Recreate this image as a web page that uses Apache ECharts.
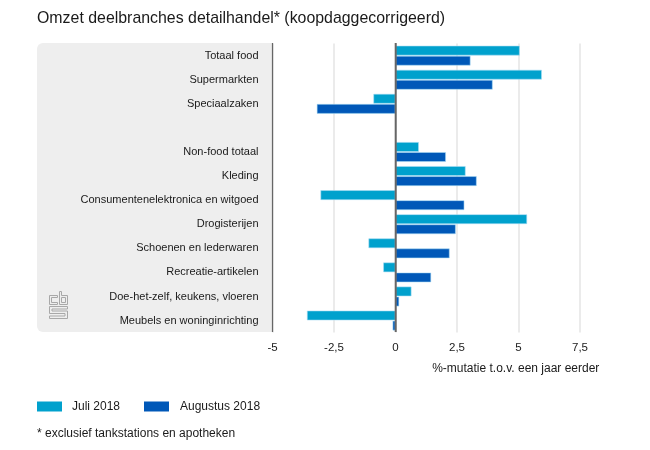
<!DOCTYPE html>
<html><head><meta charset="utf-8">
<style>html,body{margin:0;padding:0;background:#fff}#c{width:650px;height:450px}</style>
<script src="https://cdn.jsdelivr.net/npm/echarts@6/dist/echarts.min.js"></script>
</head><body><div id="c"></div>
<script>
var categories = ['Totaal food','Supermarkten','Speciaalzaken','','Non-food totaal','Kleding','Consumentenelektronica en witgoed','Drogisterijen','Schoenen en lederwaren','Recreatie-artikelen','Doe-het-zelf, keukens, vloeren','Meubels en woninginrichting'];
var juli = [5.05,5.95,-0.9,null,0.95,2.85,-3.05,5.35,-1.1,-0.5,0.65,-3.6];
var augustus = [3.05,3.95,-3.2,null,2.05,3.3,2.8,2.45,2.2,1.45,0.15,-0.12];
var font = '"Liberation Sans", Arial, sans-serif';
var txt = '#1a1a1a';
var logo = '#a8a8a8';
var chart = echarts.init(document.getElementById('c'), null, {renderer:'canvas'});
function bar(name, data, color){
  return {name:name,type:'bar',data:data,barWidth:9.8,barGap:'3%',
    itemStyle:{color:color,borderColor:'rgba(170,220,245,0.8)',borderWidth:0.7},
    animation:false,silent:true,z:3};
}
function tick(v){ return String(v).replace('.',','); }
function logoShape(pts){
  return {type:'polygon',silent:true,shape:{points:pts},style:{stroke:logo,fill:null,lineWidth:1}};
}
chart.setOption({
  animation:false,
  backgroundColor:'#fff',
  title:{text:'Omzet deelbranches detailhandel* (koopdaggecorrigeerd)',left:32,top:5.5,
    textStyle:{fontFamily:font,fontSize:15.9,fontWeight:'normal',color:txt}},
  grid:{left:272.5,top:43.6,width:307.5,height:289,containLabel:false},
  xAxis:{type:'value',min:-5,max:7.5,interval:2.5,
    axisLine:{show:false},axisTick:{show:false},
    axisLabel:{fontFamily:font,fontSize:11.5,color:txt,margin:9,formatter:tick},
    splitLine:{lineStyle:{color:'#e4e4e4',width:1.5}},
    name:'%-mutatie t.o.v. een jaar eerder',nameLocation:'middle',nameGap:30,
    nameTextStyle:{fontFamily:font,fontSize:12,color:txt,padding:[0,0,0,179]}},
  yAxis:{type:'category',data:categories,inverse:true,position:'left',
    axisLine:{show:false},axisTick:{show:false},
    axisLabel:{fontFamily:font,fontSize:11,color:txt,margin:14,interval:0,padding:[3,0,0,0]}},
  legend:{show:false},
  graphic:[
    {type:'rect',z:-10,silent:true,shape:{x:37,y:43,width:235,height:289,r:[6,0,0,6]},style:{fill:'#eeeeee'}},
    {type:'line',z:10,silent:true,shape:{x1:272.5,y1:43,x2:272.5,y2:332},style:{stroke:'#666',lineWidth:1.2}},
    {type:'line',z:10,silent:true,shape:{x1:395.7,y1:43,x2:395.7,y2:332},style:{stroke:'#666',lineWidth:2}},
    {type:'rect',silent:true,shape:{x:37,y:401.5,width:25,height:10},style:{fill:'#00a1cd'}},
    {type:'text',silent:true,style:{x:72,y:407,text:'Juli 2018',fontFamily:font,fontSize:12,fill:txt,verticalAlign:'middle'}},
    {type:'rect',silent:true,shape:{x:144,y:401.5,width:25,height:10},style:{fill:'#0058b8'}},
    {type:'text',silent:true,style:{x:180,y:407,text:'Augustus 2018',fontFamily:font,fontSize:12,fill:txt,verticalAlign:'middle'}},
    {type:'text',silent:true,style:{x:37,y:434,text:'* exclusief tankstations en apotheken',fontFamily:font,fontSize:12,fill:txt,verticalAlign:'middle'}},
    logoShape([[49.5,295.5],[57.5,295.5],[57.5,297.5],[51.5,297.5],[51.5,302.5],[57.5,302.5],[57.5,304.5],[49.5,304.5]]),
    logoShape([[59.5,291.5],[61.5,291.5],[61.5,295.5],[67.5,295.5],[67.5,304.5],[59.5,304.5]]),
    logoShape([[61.5,297.5],[65.5,297.5],[65.5,302.5],[61.5,302.5]]),
    logoShape([[49.5,306.5],[67.5,306.5],[67.5,309],[52,309],[52,311],[67.5,311],[67.5,318.5],[49.5,318.5],[49.5,316],[65,316],[65,313.5],[49.5,313.5]])
  ],
  series:[bar('Juli 2018',juli,'#00a1cd'),bar('Augustus 2018',augustus,'#0058b8')]
});
</script></body></html>
